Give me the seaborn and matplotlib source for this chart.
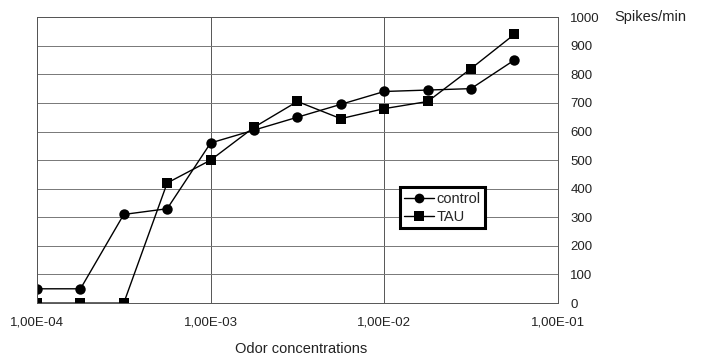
import numpy as np
import pandas as pd
import matplotlib
matplotlib.use("Agg")
import matplotlib.pyplot as plt
import seaborn as sns
from matplotlib.ticker import FixedLocator, FixedFormatter, NullLocator

# Data
concentrations = [1.00e-4, 1.78e-4, 3.16e-4, 5.62e-4, 1.00e-3, 1.78e-3,
                  3.16e-3, 5.62e-3, 1.00e-2, 1.78e-2, 3.16e-2, 5.62e-2]
control = [50, 50, 310, 330, 560, 605, 650, 695, 740, 745, 750, 850]
tau = [0, 0, 0, 420, 500, 615, 705, 645, 680, 705, 820, 940]
series_names = ["control", "TAU"]
x_ticks = [1e-4, 1e-3, 1e-2, 1e-1]
x_tick_labels = ["1,00E-04", "1,00E-03", "1,00E-02", "1,00E-01"]
y_ticks = [0, 100, 200, 300, 400, 500, 600, 700, 800, 900, 1000]

df = pd.DataFrame({
    "conc": concentrations * 2,
    "spikes": control + tau,
    "series": [series_names[0]] * len(control) + [series_names[1]] * len(tau),
})

sns.set_style("white")
plt.rcParams["font.family"] = ["Liberation Sans", "DejaVu Sans"]

fig = plt.figure(figsize=(7.02, 3.57), dpi=100)
ax = fig.add_axes([0.0527, 0.151, 0.742, 0.801])

sns.lineplot(data=df, x="conc", y="spikes", hue="series", style="series",
             palette={"control": "black", "TAU": "black"},
             markers={"control": "o", "TAU": "s"}, dashes=False,
             linewidth=1.0, markersize=7.5, markeredgewidth=0, ax=ax)

ax.set_xscale("log")
ax.set_xlim(1e-4, 1e-1)
ax.set_ylim(0, 1000)
ax.xaxis.set_major_locator(FixedLocator(x_ticks))
ax.xaxis.set_major_formatter(FixedFormatter(x_tick_labels))
ax.xaxis.set_minor_locator(NullLocator())
ax.set_yticks(y_ticks)
ax.yaxis.tick_right()
ax.tick_params(axis="y", length=0, pad=9, labelsize=9.5, colors="#222222")
ax.tick_params(axis="x", length=4, width=0.6, pad=6, labelsize=9.5, colors="#222222")

ax.grid(True, axis="y", color="#777777", linewidth=0.7)
ax.grid(True, axis="x", color="#555555", linewidth=0.7)
ax.set_axisbelow(True)
for sp in ax.spines.values():
    sp.set_visible(True)
    sp.set_color("#555555")
    sp.set_linewidth(0.7)
    sp.set_linestyle((0, (4, 1)))

ax.set_xlabel("Odor concentrations", fontsize=10.5, color="#222222")
ax.set_ylabel("")
ax.xaxis.set_label_coords(0.507, -0.135)
ax.text(1.109, 1.0, "Spikes/min", transform=ax.transAxes, fontsize=10.5,
        color="#222222", va="center", ha="left")

leg = ax.legend(loc="upper left", bbox_to_anchor=(0.697, 0.405), fontsize=10.5,
                frameon=True, fancybox=False, framealpha=1, edgecolor="black",
                borderpad=0.3, handlelength=2.0, handletextpad=0.2,
                labelspacing=0.3, borderaxespad=0)
leg.get_frame().set_linewidth(2.2)
for h in leg.legend_handles:
    h.set_markersize(7)

fig.savefig("out.png", dpi=100)
